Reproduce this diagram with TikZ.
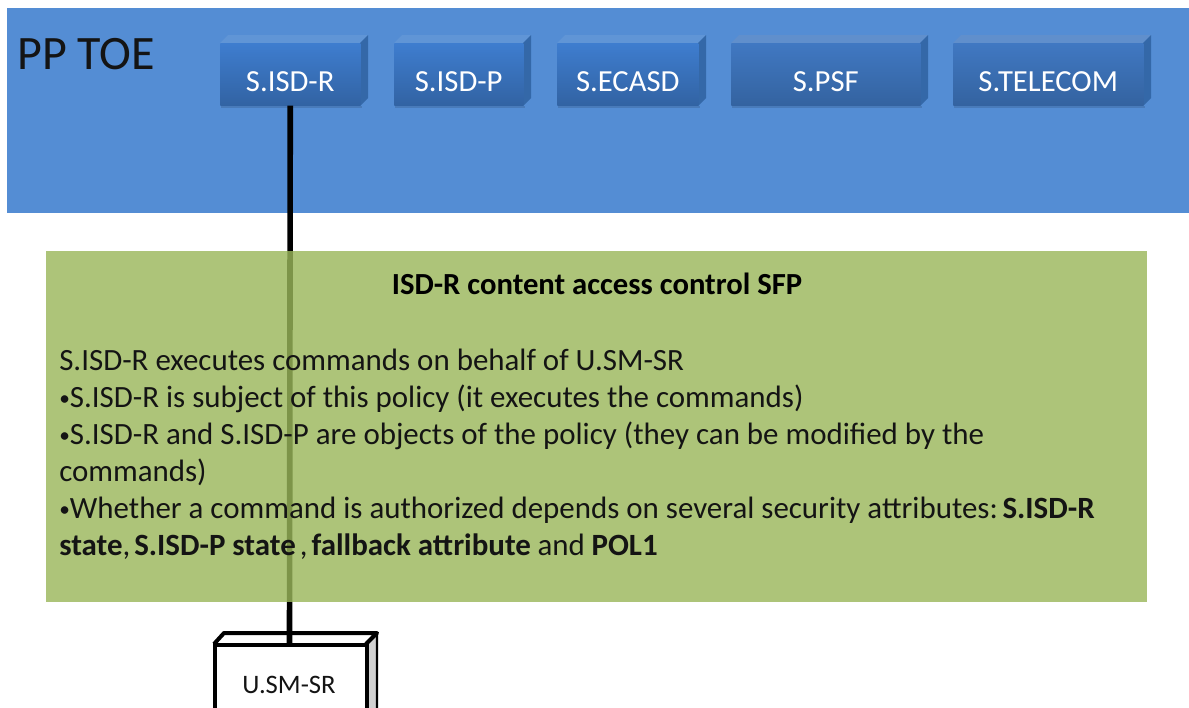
\documentclass[tikz,border=0pt]{standalone}
\usepackage{fontspec}
\setmainfont{Carlito}
\usetikzlibrary{calc}
\definecolor{panelblue}{RGB}{84,141,212}
\definecolor{sfpgreen}{RGB}{154,183,90}
\definecolor{boxtop}{RGB}{62,125,207}
\definecolor{boxbot}{RGB}{50,99,163}
\definecolor{boxlid}{RGB}{96,149,214}
\definecolor{boxside}{RGB}{52,104,168}
\definecolor{flattop}{RGB}{64,120,194}
\definecolor{flatbot}{RGB}{52,99,160}
\definecolor{flatlid}{RGB}{96,143,204}
\definecolor{txt}{RGB}{20,20,20}
\tikzset{
  x=0.75pt,y=-0.75pt,
  comp/.style={rectangle,inner sep=0pt,minimum height=46.5pt,text height=31pt,text depth=5pt,text=white,font=\fontsize{23}{27}\selectfont,anchor=north west},
  sline/.style={anchor=base west,inner sep=0pt,text=txt,font=\fontsize{23.2}{27}\selectfont},
}
\newcommand{\compbox}[7]{% name, left, right, label, top, bottom, lid
  \fill[black,opacity=.12] (#2+1,106) rectangle (#3+2,107.5);
  \fill[#7] (#2,43) -- (#2+8,35) -- (#3+8,35) -- (#3,43) -- cycle;
  \fill[boxside] (#3,43) -- (#3+8,35) -- (#3+8,98) -- (#3,106) -- cycle;
  \node[comp,top color=#5,bottom color=#6,minimum width={(#3-#2)*0.75pt}] (#1) at (#2,43) {#4};
}
\newcommand{\smallbullet}{{\fontsize{16}{16}\selectfont\raisebox{1.5pt}{•}}}
\begin{document}
\begin{tikzpicture}
\useasboundingbox (0,0) rectangle (1189,707);
\clip (0,0) rectangle (1189,707);
\fill[white] (0,0) rectangle (1189,707);
\fill[panelblue] (7,8) rectangle (1189,213);
\node[anchor=base west,inner sep=0pt,text=txt,font=\fontsize{36}{42}\selectfont] (pp) at (17,69) {PP TOE};
\compbox{isdr}{220}{360}{S.ISD-R}{boxtop}{boxbot}{boxlid}
\compbox{isdp}{394}{523}{S.ISD-P}{boxtop}{boxbot}{boxlid}
\compbox{ecasd}{557}{698}{S.ECASD}{boxtop}{boxbot}{boxlid}
\compbox{psf}{731}{920}{S.PSF}{flattop}{flatbot}{flatlid}
\compbox{telecom}{953}{1143}{S.TELECOM}{flattop}{flatbot}{flatlid}
% U.SM-SR box
\fill[white] (214,644) -- (224,633) -- (377,633) -- (366,644) -- cycle;
\fill[black!18] (366,644) -- (377,633) -- (377,720) -- (366,730) -- cycle;
\draw[line width=3pt,line join=round] (214,644) -- (224,633) -- (377,633) -- (366,644);
\draw[line width=1.6pt] (377,633) -- (377,720) -- (366,730);
\node[rectangle,draw=black,line width=3pt,fill=white,anchor=north west,inner sep=0pt,minimum width=114pt,minimum height=60pt,text=txt,font=\fontsize{20}{24}\selectfont] (usm) at (213,643) {\hspace{-3pt}U.SM-SR};
\draw[black,line width=4.2pt] (isdr.south) -- ($(usm.north)+(-1.5,0)$);
% SFP panel
\fill[sfpgreen,opacity=.81] (46,251) rectangle (1147,602);
\node[anchor=base,inner sep=0pt,text=black,font=\fontsize{23}{27}\selectfont\bfseries] (title) at (597,294) {ISD-R content access control SFP};
\node[sline] (l1) at (59,370) {S.ISD-R executes commands on behalf of U.SM-SR};
\node[sline] (l2) at (59,407) {\smallbullet S.ISD-R is subject of this policy (it executes the commands)};
\node[sline] (l3) at (59,444) {\smallbullet S.ISD-R and S.ISD-P are objects of the policy (they can be modified by the};
\node[sline] (l4) at (59,481) {commands)};
\node[sline] (l5) at (59,518) {\smallbullet Whether a command is authorized depends on several security attributes:\hspace{3.5pt}\textbf{S.ISD-R}};
\node[sline] (l6) at (59,555) {\textbf{state},\hspace{3pt}\textbf{S.ISD-P state}\hspace{3pt},\hspace{3pt}\textbf{fallback attribute}\hspace{5pt}and\hspace{5pt}\textbf{POL1}};
\end{tikzpicture}
\end{document}
